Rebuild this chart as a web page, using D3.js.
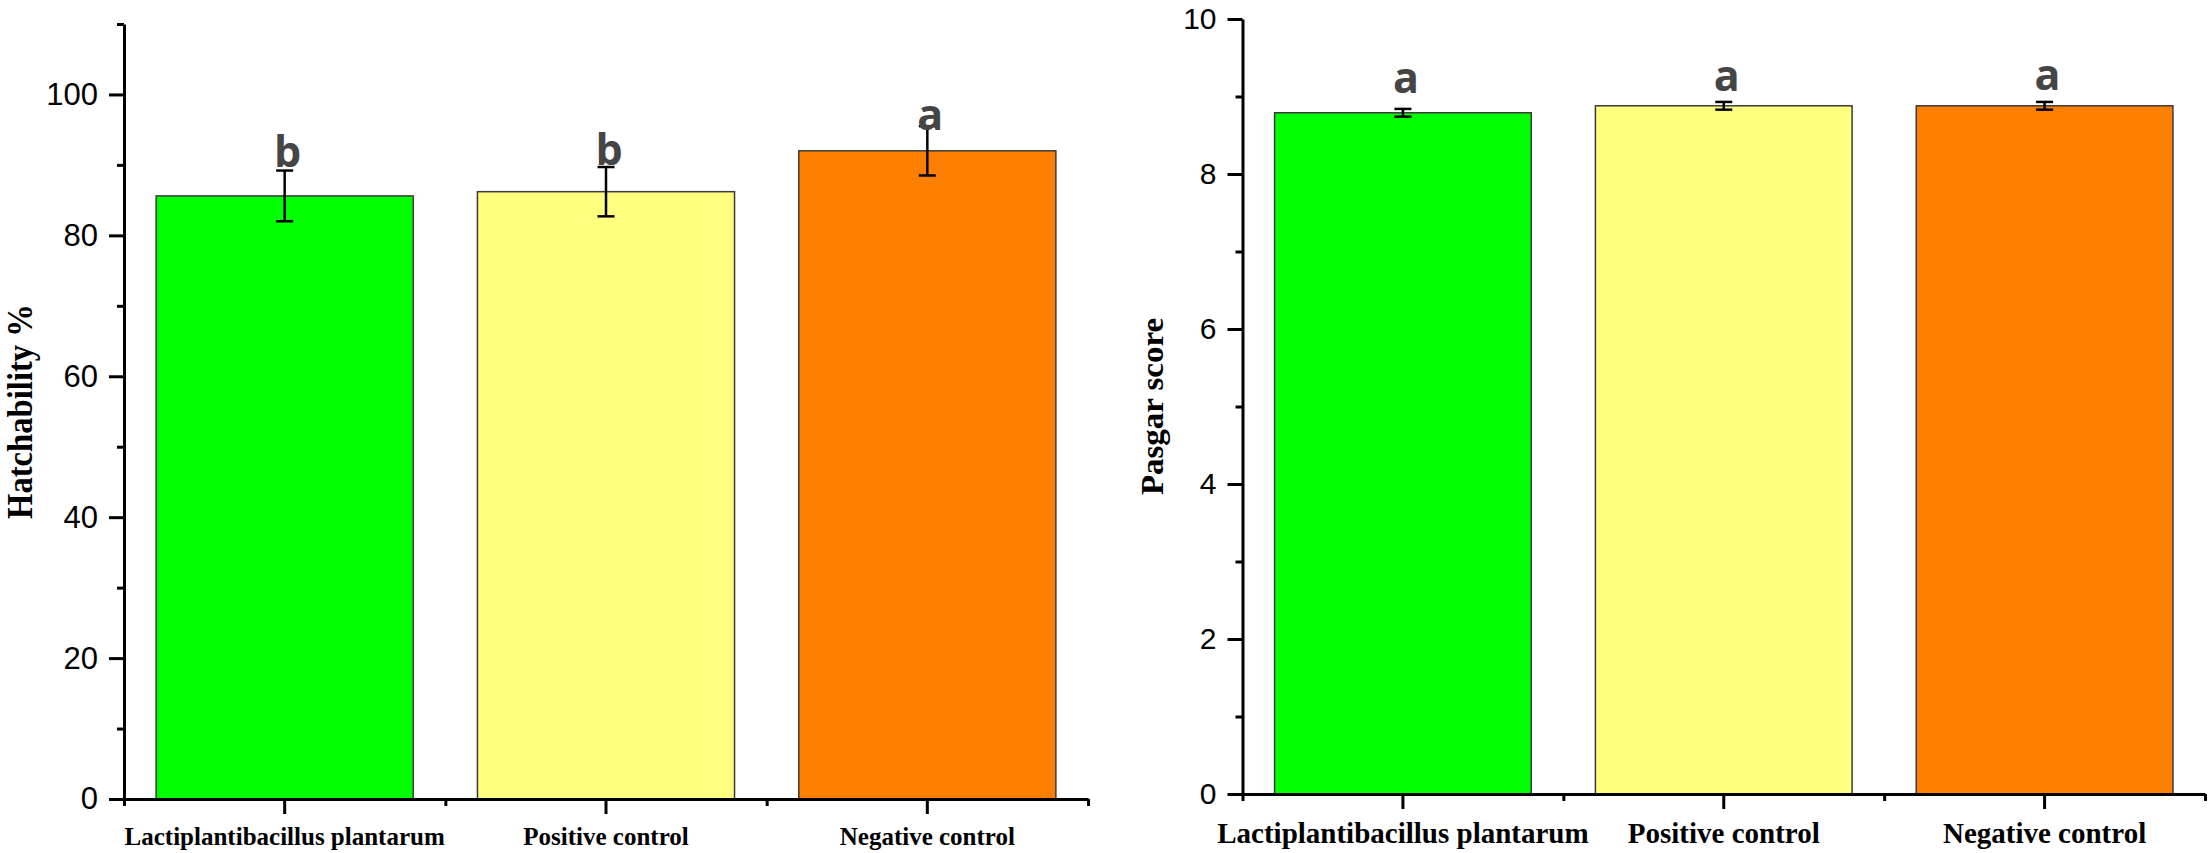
<!DOCTYPE html>
<html>
<head>
<meta charset="utf-8">
<script src="https://cdn.jsdelivr.net/npm/d3@7/dist/d3.min.js"></script>
<style>
  body { margin: 0; background: #fff; }
  svg { display: block; }
</style>
</head>
<body>
<div id="chart"></div>
<script>
// data
var categories = ["Lactiplantibacillus plantarum", "Positive control", "Negative control"];
var barColors = ["#00ff00", "#ffff80", "#ff8000"];

var hatchMeans = [85.6, 86.2, 92.0];
var hatchErrors = [3.6, 3.5, 3.5];
var hatchLetters = ["b", "b", "a"];
var hatchLetterAt = [89.7, 90.0, 94.9];   // letter baseline, in axis units
var hatchTicks = [0, 20, 40, 60, 80, 100];
var hatchMinor = [10, 30, 50, 70, 90, 110];

var pasgarMeans = [8.79, 8.88, 8.88];
var pasgarErrors = [0.05, 0.05, 0.05];
var pasgarLetters = ["a", "a", "a"];
var pasgarLetterAt = [9.05, 9.07, 9.08];
var pasgarTicks = [0, 2, 4, 6, 8, 10];
var pasgarMinor = [1, 3, 5, 7, 9];

var svg = d3.select("#chart").append("svg")
    .attr("width", 2210)
    .attr("height", 853);

function drawPanel(p) {
  var rows = categories.map(function(c, i) {
    return {cat: c, mean: p.means[i], err: p.errors[i], letter: p.letters[i],
            letterAt: p.letterAt[i], color: barColors[i]};
  });

  var x = d3.scaleBand()
      .domain(categories)
      .range([p.x0, p.x1])
      .paddingInner(0.2)
      .paddingOuter(0.1);

  var y = d3.scaleLinear()
      .domain(p.domain)
      .range([p.y0, p.y1]);

  var g = svg.append("g");

  // bars
  g.selectAll("rect.bar")
    .data(rows)
    .enter()
    .append("rect")
    .attr("class", "bar")
    .attr("x", function(d){ return x(d.cat); })
    .attr("y", function(d){ return y(d.mean); })
    .attr("width", x.bandwidth())
    .attr("height", function(d){ return y(0) - y(d.mean); })
    .attr("fill", function(d){ return d.color; })
    .attr("stroke", "#3a3a3a")
    .attr("stroke-width", 1.5);

  // error bars
  var eb = g.selectAll("g.err")
    .data(rows)
    .enter()
    .append("g")
    .attr("class", "err")
    .attr("stroke", "#000")
    .attr("stroke-width", 2.5);

  eb.append("line")
    .attr("x1", function(d){ return x(d.cat) + x.bandwidth() / 2; })
    .attr("x2", function(d){ return x(d.cat) + x.bandwidth() / 2; })
    .attr("y1", function(d){ return y(d.mean - d.err); })
    .attr("y2", function(d){ return y(d.mean + d.err); });

  [1, -1].forEach(function(s){
    eb.append("line")
      .attr("x1", function(d){ return x(d.cat) + x.bandwidth() / 2 - 8.5; })
      .attr("x2", function(d){ return x(d.cat) + x.bandwidth() / 2 + 8.5; })
      .attr("y1", function(d){ return y(d.mean + s * d.err); })
      .attr("y2", function(d){ return y(d.mean + s * d.err); });
  });

  // significance letters
  g.selectAll("text.letter")
    .data(rows)
    .enter()
    .append("text")
    .attr("class", "letter")
    .attr("x", function(d){ return x(d.cat) + x.bandwidth() / 2 + 3; })
    .attr("y", function(d){ return y(d.letterAt); })
    .attr("text-anchor", "middle")
    .attr("font-family", "'Open Sans', 'DejaVu Sans', sans-serif")
    .attr("font-weight", "bold")
    .attr("font-size", 43)
    .attr("fill", "#454545")
    .text(function(d){ return d.letter; });

  // y axis, major + minor ticks
  var yAxis = d3.axisLeft(y)
      .tickValues(p.ticks)
      .tickSize(15)
      .tickSizeOuter(0)
      .tickPadding(11);
  var ya = g.append("g")
      .attr("transform", "translate(" + p.x0 + ",0)")
      .call(yAxis);
  ya.selectAll("text")
    .attr("font-family", "'Liberation Sans', Arial, sans-serif")
    .attr("font-size", p.tickFont)
    .attr("fill", "#000");

  var yMinor = d3.axisLeft(y)
      .tickValues(p.minor)
      .tickSize(7)
      .tickSizeOuter(0)
      .tickFormat("");
  g.append("g")
      .attr("transform", "translate(" + p.x0 + ",0)")
      .call(yMinor)
      .select(".domain").remove();

  // x axis: major ticks at centres, minor at band edges
  var xAxis = d3.axisBottom(x)
      .tickSize(15)
      .tickSizeOuter(0);
  var xa = g.append("g")
      .attr("transform", "translate(0," + y(0) + ")")
      .call(xAxis);
  xa.selectAll("text")
    .attr("y", p.labelDrop)
    .attr("dy", 0)
    .attr("font-family", "'Liberation Serif', 'Times New Roman', serif")
    .attr("font-weight", "bold")
    .attr("font-size", p.labelFont)
    .attr("fill", "#000");

  var edges = d3.range(categories.length + 1).map(function(i){
    return p.x0 + i * x.step();
  });
  var xEdge = d3.scaleLinear().domain([p.x0, p.x1]).range([p.x0, p.x1]);
  g.append("g")
      .attr("transform", "translate(0," + y(0) + ")")
      .call(d3.axisBottom(xEdge).tickValues(edges).tickSize(7).tickSizeOuter(0).tickFormat(""))
      .select(".domain").remove();

  g.selectAll(".domain, .tick line")
    .attr("stroke", "#000")
    .attr("stroke-width", 3);

  // y title
  g.append("text")
    .attr("transform", "translate(" + p.titleX + "," + ((p.y0 + p.y1) / 2) + ") rotate(-90)")
    .attr("text-anchor", "middle")
    .attr("font-family", "'Liberation Serif', 'Times New Roman', serif")
    .attr("font-weight", "bold")
    .attr("font-size", p.titleFont)
    .attr("textLength", p.titleLength)
    .attr("lengthAdjust", "spacingAndGlyphs")
    .text(p.title);
}

drawPanel({
  means: hatchMeans, errors: hatchErrors, letters: hatchLetters, letterAt: hatchLetterAt,
  ticks: hatchTicks, minor: hatchMinor, domain: [0, 110],
  x0: 124, x1: 1088, y0: 799, y1: 24,
  tickFont: 31, labelFont: 25, labelDrop: 46,
  title: "Hatchability %", titleX: 32, titleFont: 35, titleLength: 215
});

drawPanel({
  means: pasgarMeans, errors: pasgarErrors, letters: pasgarLetters, letterAt: pasgarLetterAt,
  ticks: pasgarTicks, minor: pasgarMinor, domain: [0, 10],
  x0: 1242.5, x1: 2205, y0: 794, y1: 19,
  tickFont: 30, labelFont: 29, labelDrop: 49,
  title: "Pasgar score", titleX: 1163, titleFont: 32, titleLength: 177
});
</script>
</body>
</html>
